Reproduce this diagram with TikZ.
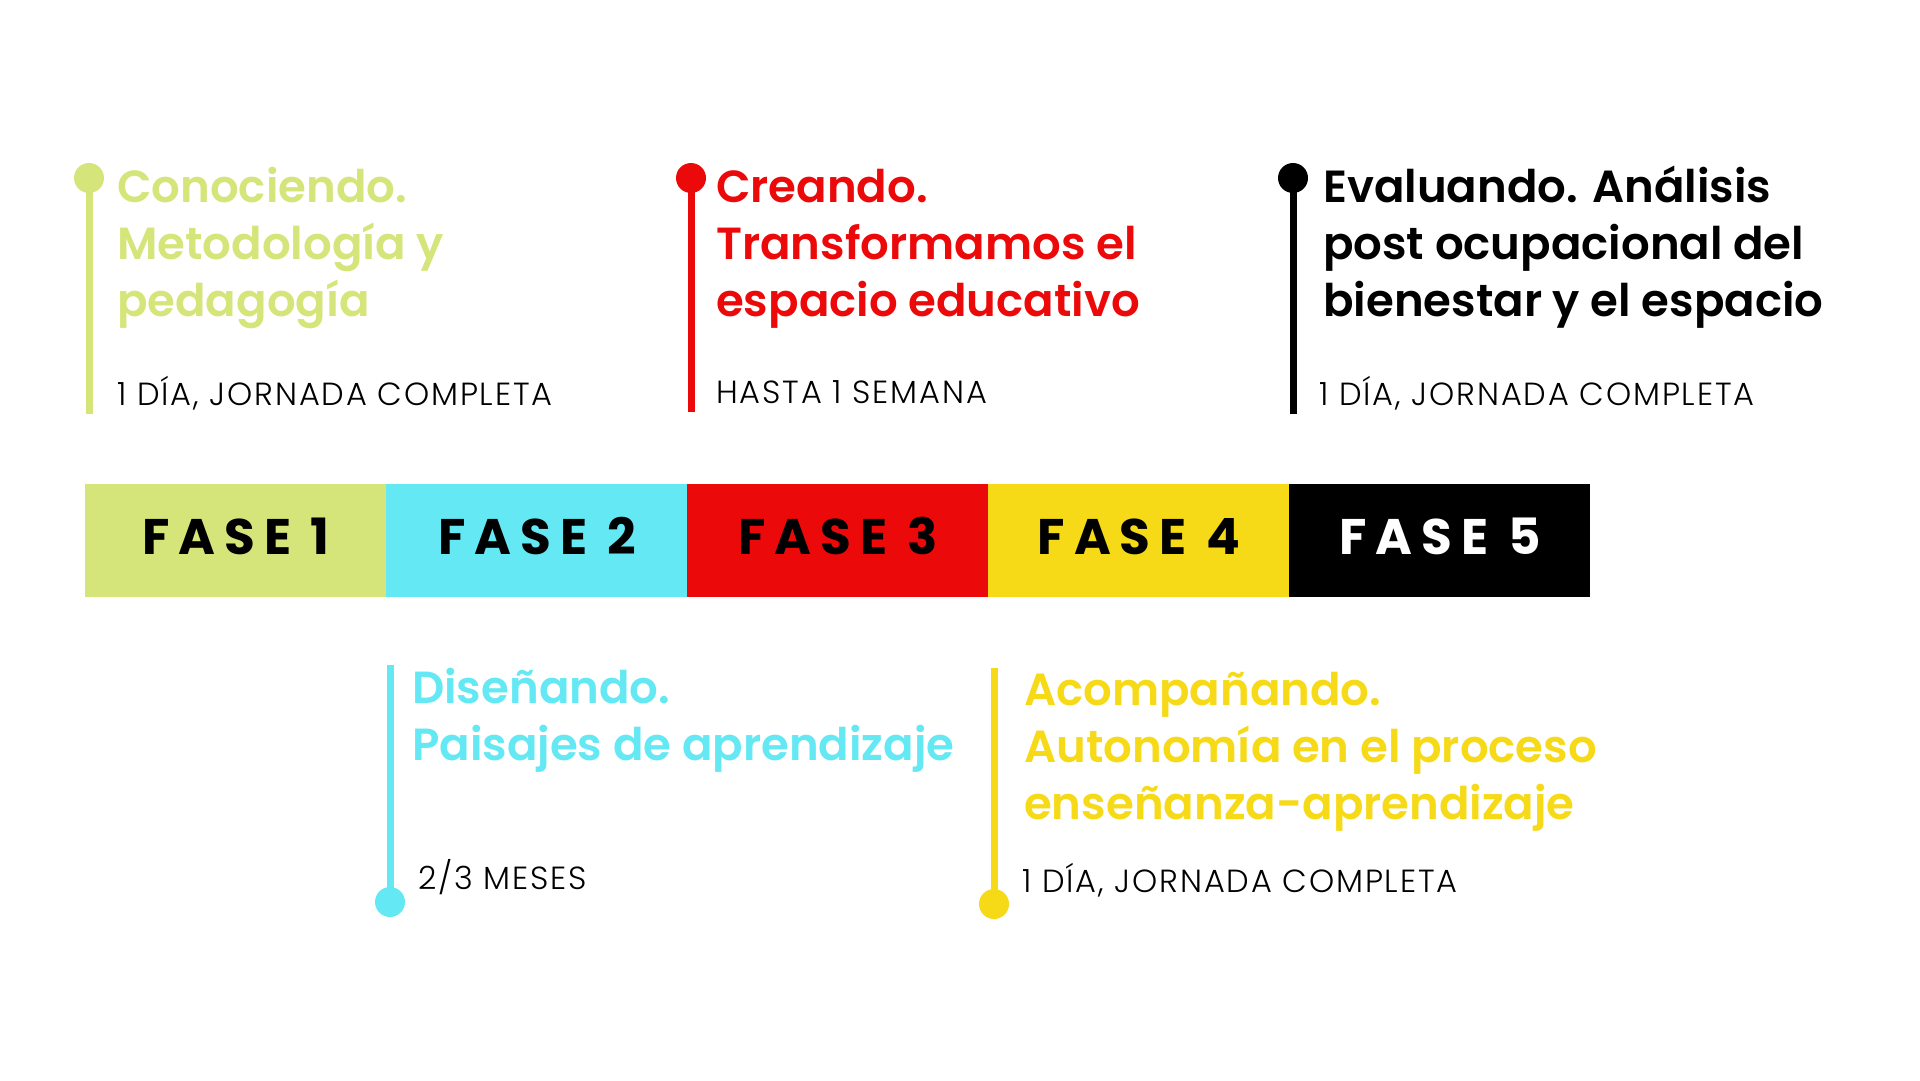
\documentclass[tikz,border=0pt]{standalone}
\usepackage{fontspec}
\setmainfont{Poppins}
\newfontfamily\headfont{Poppins}[UprightFont=* SemiBold]
\newfontfamily\durfont{Poppins}[UprightFont=* Light, LetterSpace=5.8]
\newfontfamily\fasefont{Poppins}[UprightFont=* Bold, LetterSpace=18]
\definecolor{cgreen}{HTML}{D5E579}
\definecolor{ccyan}{HTML}{64E8F3}
\definecolor{cred}{HTML}{EC0909}
\definecolor{cyellow}{HTML}{F6DA17}
\begin{document}
\begin{tikzpicture}[x=1pt,y=-1pt,
  seg/.style={draw=none, minimum width=301pt, minimum height=113pt, inner sep=0, anchor=north west},
  fasetxt/.style={font=\fasefont\fontsize{50}{50}\selectfont, anchor=base},
  head/.style={anchor=base west, inner sep=0, align=left, font=\headfont\fontsize{45}{57}\selectfont},
  dur/.style={anchor=base west, inner sep=0, font=\durfont\fontsize{32}{36}\selectfont, text=black},
  dotnode/.style={circle, draw=none, minimum size=30pt, inner sep=0},
  stem/.style={line width=7pt}]
\fill[white] (0,0) rectangle (1920,1080);
\useasboundingbox (0,0) rectangle (1920,1080);

% phase bar
\node[seg, fill=cgreen]  (s1) at (85,484) {};
\node[seg, fill=ccyan]   (s2) at (386,484) {};
\node[seg, fill=cred]    (s3) at (687,484) {};
\node[seg, fill=cyellow] (s4) at (988,484) {};
\node[seg, fill=black]   (s5) at (1289,484) {};
\node[fasetxt, text=black] (f1) at (236,554) {FASE 1};
\node[fasetxt, text=black] (f2) at (537,554) {FASE 2};
\node[fasetxt, text=black] (f3) at (838,554) {FASE 3};
\node[fasetxt, text=black] (f4) at (1139,554) {FASE 4};
\node[fasetxt, text=white] (f5) at (1440,554) {FASE 5};

% phase 1 (top)
\coordinate (e1) at (89,414);
\draw[stem, cgreen] (89,178) -- (e1);
\node[dotnode, fill=cgreen] (d1) at (89,178) {};
\node[head, text=cgreen] (h1) at (117,316) {Conociendo.\\Metodología y\\pedagogía};
\node[dur] (t1) at (117,405) {1 DÍA, JORNADA COMPLETA};

% phase 3 (top)
\coordinate (e3) at (691,412);
\draw[stem, cred] (691,178) -- (e3);
\node[dotnode, fill=cred] (d3) at (691,178) {};
\node[head, text=cred] (h3) at (716,316) {Creando.\\Transformamos el\\espacio educativo};
\node[dur] (t3) at (716,403) {HASTA 1 SEMANA};

% phase 5 (top)
\coordinate (e5) at (1293,414);
\draw[stem, black] (1293,178) -- (e5);
\node[dotnode, fill=black] (d5) at (1293,178) {};
\node[head, text=black] (h5) at (1323,316) {Evaluando. Análisis\\post ocupacional del\\bienestar y el espacio};
\node[dur] (t5) at (1319,405) {1 DÍA, JORNADA COMPLETA};

% phase 2 (bottom)
\coordinate (e2) at (390,665);
\draw[stem, ccyan] (e2) -- (390,902);
\node[dotnode, fill=ccyan] (d2) at (390,902) {};
\node[head, text=ccyan] (h2) at (412,760) {Diseñando.\\Paisajes de aprendizaje};
\node[dur] (t2) at (418,889) {2/3 MESES};

% phase 4 (bottom)
\coordinate (e4) at (994,668);
\draw[stem, cyellow] (e4) -- (994,904);
\node[dotnode, fill=cyellow] (d4) at (994,904) {};
\node[head, text=cyellow] (h4) at (1024,819) {Acompañando.\\Autonomía en el proceso\\enseñanza-aprendizaje};
\node[dur] (t4) at (1022,892) {1 DÍA, JORNADA COMPLETA};
\end{tikzpicture}
\end{document}
